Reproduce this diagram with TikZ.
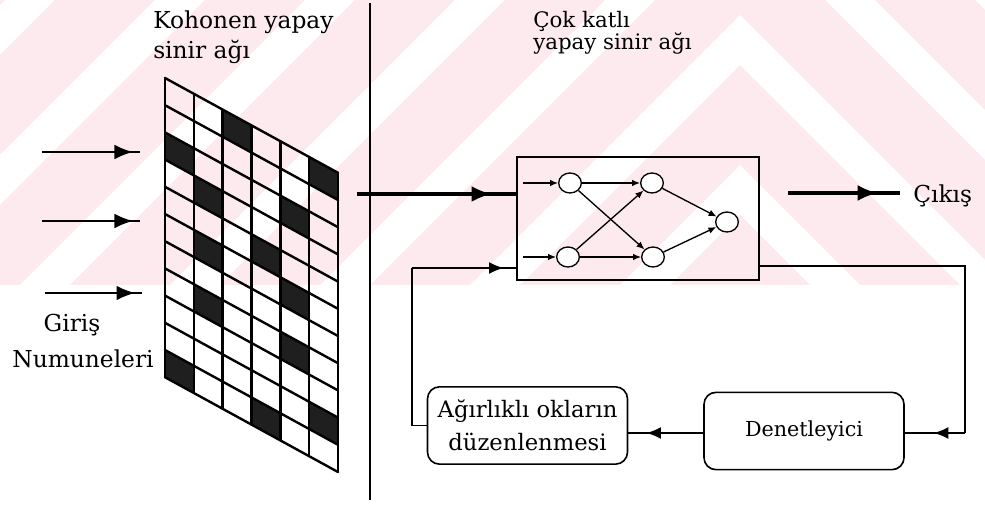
\documentclass[tikz,border=0pt]{standalone}
\usepackage{fontspec}
\setmainfont{DejaVu Serif}
\usetikzlibrary{shapes.geometric,arrows.meta,decorations.markings}
\definecolor{wmpink}{RGB}{253,234,239}
\begin{document}
\begin{tikzpicture}[x=0.75pt,y=-0.75pt,
  lbl/.style={inner sep=0pt, font=\fontsize{17.5}{24}\selectfont},
  lblsmall/.style={inner sep=0pt, font=\fontsize{16}{20}\selectfont},
  gridline/.style={line width=1.8pt, line cap=round},
  cellfill/.style={fill=black!88},
  cellwhite/.style={fill=white},
  thinline/.style={line width=1.3pt},
  thickline/.style={line width=2.6pt},
  inline/.style={line width=1.6pt},
  neuron/.style={ellipse, draw, fill=white, line width=1pt, minimum width=17pt, minimum height=15pt, inner sep=0pt},
  nnarrow/.style={line width=1pt, -{Latex[length=6pt,width=5pt]}},
  bigmid/.style={postaction={decorate}, decoration={markings, mark=at position #1 with {\arrow{Latex[length=15pt,width=12pt]}}}},
  inmid/.style={postaction={decorate}, decoration={markings, mark=at position #1 with {\arrow{Latex[length=14pt,width=11pt]}}}},
  fbmid/.style={postaction={decorate}, decoration={markings, mark=at position #1 with {\arrow{Latex[length=11pt,width=9pt]}}}},
  roundbox/.style={draw, line width=1.2pt, rounded corners=9pt, minimum width=150pt, minimum height=58pt, align=center, inner sep=0pt, font=\fontsize{17}{24.5}\selectfont}
]
\useasboundingbox (0,0) rectangle (985,505);

% faint watermark (chevron stripes in the upper part)
\begin{scope}
  \clip (0,0) rectangle (985,285);
  \foreach \s in {-835,-685,-535,-385,-235,-85,65,215} {
    \fill[wmpink] (-60,{\s+800}) -- (740,\s) -- (1045,{\s+305}) -- (1045,{\s+405}) -- (740,{\s+100}) -- (-60,{\s+900}) -- cycle;
  }
\end{scope}

% separator
\coordinate (sepT) at (370,3);
\coordinate (sepB) at (370,500);
\draw[line width=1.5pt] (sepT) -- (sepB);

% Kohonen grid
\foreach \c/\r in {0/2,0/10,1/3,1/5,1/7,2/0,3/4,3/10,4/2,4/5,4/7,5/0,5/9}
  \fill[cellfill] ({165+\c*28.83},{78+\c*15.8+\r*27.2}) -- ++(28.83,15.8) -- ++(0,27.2) -- ++(-28.83,-15.8) -- cycle;
\foreach \c in {0,...,6}
  \draw[gridline] ({165+\c*28.83},{78+\c*15.8}) -- ++(0,299.2);
\foreach \r in {0,...,11}
  \draw[gridline] (165,{78+\r*27.2}) -- ++(173,94.8);

% titles
\node[lbl, anchor=base west] (koh1) at (153,29) {Kohonen yapay};
\node[lbl, anchor=base west] (koh2) at (153,59) {sinir ağı};
\node[lblsmall, anchor=base west] (cok1) at (533,28) {Çok katlı};
\node[lblsmall, anchor=base west] (cok2) at (533,50) {yapay sinir ağı};

% inputs
\coordinate (a1s) at (42,152);  \coordinate (a1e) at (140,152);
\coordinate (a2s) at (42,221);  \coordinate (a2e) at (140,221);
\coordinate (a3s) at (45,293);  \coordinate (a3e) at (142,293);
\draw[inline, inmid=0.93] (a1s) -- (a1e);
\draw[inline, inmid=0.93] (a2s) -- (a2e);
\draw[inline, inmid=0.93] (a3s) -- (a3e);
\node[lbl, anchor=base] (giris) at (72,332) {Giriş};
\node[lbl, anchor=base] (numune) at (83,368) {Numuneleri};

% multilayer network box
\node[draw, line width=1.2pt, minimum width=181.5pt, minimum height=92.25pt, inner sep=0pt] (nn) at (638,218.5) {};
\node[neuron] (i1) at (570,183) {};
\node[neuron] (i2) at (568,257) {};
\node[neuron] (h1) at (652,183) {};
\node[neuron] (h2) at (653,257) {};
\node[neuron] (o) at (727,222) {};
\coordinate (n1) at (523,183);
\coordinate (n2) at (523,257);
\draw[nnarrow] (n1) -- (i1);
\draw[nnarrow] (n2) -- (i2);
\draw[nnarrow] (i1) -- (h1);
\draw[nnarrow] (i1) -- (h2);
\draw[nnarrow] (i2) -- (h1);
\draw[nnarrow] (i2) -- (h2);
\draw[nnarrow] (h1) -- (o);
\draw[nnarrow] (h2) -- (o);

% grid -> network
\coordinate (g1) at (357,194);
\draw[thickline, bigmid=0.845] (g1) -- (g1 -| nn.west);

% output
\coordinate (o1) at (788,193);
\coordinate (o2) at (900,193);
\draw[thickline, bigmid=0.8] (o1) -- (o2);
\node[lbl, anchor=base west] (cikis) at (913,203) {Çıkış};

% bottom boxes
\node[roundbox] (agir) at (527.5,425.5) {Ağırlıklı okların\\düzenlenmesi};
\node[roundbox, font=\fontsize{15.5}{20}\selectfont] (den) at (804,431) {Denetleyici};

% feedback loop
\coordinate (r1) at (965,266);
\coordinate (r2) at (965,433);
\coordinate (l1) at (412,268);
\draw[thinline] (r1 -| nn.east) -- (r1) -- (r2);
\draw[thinline, fbmid=0.52] (r2) -- (r2 -| den.east);
\draw[thinline, fbmid=0.76] (r2 -| den.west) -- (r2 -| agir.east);
\draw[thinline] (agir.west) -| (l1);
\draw[thinline, fbmid=0.88] (l1) -- (l1 -| nn.west);
\end{tikzpicture}
\end{document}
